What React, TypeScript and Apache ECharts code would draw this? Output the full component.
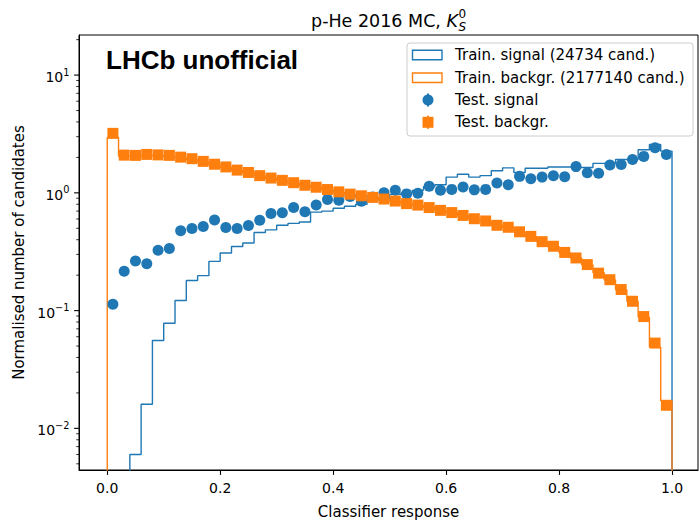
import React, { useEffect, useRef } from "react";
import * as echarts from "echarts";

// ---------------- data ----------------
const binEdges: number[] = [
  0.0, 0.02, 0.04, 0.06, 0.08, 0.1, 0.12, 0.14, 0.16, 0.18,
  0.2, 0.22, 0.24, 0.26, 0.28, 0.3, 0.32, 0.34, 0.36, 0.38,
  0.4, 0.42, 0.44, 0.46, 0.48, 0.5, 0.52, 0.54, 0.56, 0.58,
  0.6, 0.62, 0.64, 0.66, 0.68, 0.7, 0.72, 0.74, 0.76, 0.78,
  0.8, 0.82, 0.84, 0.86, 0.88, 0.9, 0.92, 0.94, 0.96, 0.98, 1.0,
];

const trainSignal: number[] = [
  0, 0, 0.006, 0.016, 0.0558, 0.078, 0.122, 0.18, 0.198, 0.262,
  0.308, 0.35, 0.375, 0.46, 0.485, 0.53, 0.55, 0.565, 0.686, 0.7,
  0.74, 0.77, 0.8, 0.87, 0.9, 0.97, 1.0, 1.05, 1.13, 1.17,
  1.36, 1.44, 1.36, 1.4, 1.54, 1.63, 1.49, 1.62, 1.62, 1.66,
  1.66, 1.64, 1.64, 1.78, 1.78, 1.92, 1.92, 2.32, 2.57, 2.26,
];

const trainBackground: number[] = [
  2.95, 2.05, 2.06, 2.08, 2.07, 2.04, 1.98, 1.92, 1.83, 1.73,
  1.65, 1.55, 1.48, 1.4, 1.33, 1.27, 1.21, 1.16, 1.11, 1.06,
  1.01, 0.97, 0.94, 0.91, 0.88, 0.85, 0.81, 0.78, 0.75, 0.71,
  0.68, 0.64, 0.6, 0.575, 0.53, 0.505, 0.465, 0.425, 0.385, 0.35,
  0.31, 0.28, 0.245, 0.21, 0.182, 0.15, 0.12, 0.088, 0.049, 0.0172,
];

const testSignal: number[] = [
  0.113, 0.216, 0.264, 0.25, 0.326, 0.337, 0.476, 0.497, 0.517, 0.588,
  0.507, 0.497, 0.527, 0.586, 0.667, 0.677, 0.75, 0.69, 0.79, 0.88,
  0.864, 0.93, 0.85, 0.92, 1.0, 1.05, 0.98, 0.99, 1.14, 1.05,
  1.07, 1.12, 1.06, 1.07, 1.21, 1.17, 1.38, 1.32, 1.36, 1.4,
  1.37, 1.67, 1.48, 1.47, 1.72, 1.74, 1.92, 2.04, 2.41, 2.12,
];

const testBackground: number[] = [
  3.2, 2.09, 2.08, 2.12, 2.1, 2.08, 2.01, 1.95, 1.85, 1.75,
  1.66, 1.56, 1.49, 1.4, 1.335, 1.277, 1.22, 1.16, 1.116, 1.067,
  1.02, 0.975, 0.944, 0.915, 0.886, 0.852, 0.81, 0.787, 0.75, 0.71,
  0.68, 0.643, 0.603, 0.577, 0.53, 0.51, 0.467, 0.427, 0.385, 0.352,
  0.312, 0.28, 0.246, 0.208, 0.183, 0.151, 0.12, 0.089, 0.053, 0.0157,
];

const xTicks: number[] = [0.0, 0.2, 0.4, 0.6, 0.8, 1.0];
const yMajorTicks: number[] = [0.01, 0.1, 1, 10];
const yMinorTicks: number[] = [
  0.005, 0.006, 0.007, 0.008, 0.009,
  0.02, 0.03, 0.04, 0.05, 0.06, 0.07, 0.08, 0.09,
  0.2, 0.3, 0.4, 0.5, 0.6, 0.7, 0.8, 0.9,
  2, 3, 4, 5, 6, 7, 8, 9,
  20,
];

const legendLabels: string[] = [
  "Train. signal (24734 cand.)",
  "Train. backgr. (2177140 cand.)",
  "Test. signal",
  "Test. backgr.",
];

// ---------------- layout / style ----------------
const X_MIN = -0.05;
const X_MAX = 1.046;
const Y_MIN = 0.00443;
const Y_MAX = 21.9;
const FLOOR = 1e-4;
const BLUE = "#1f77b4";
const ORANGE = "#ff7f0e";
const FONT = "DejaVu Sans";

function stepPoints(vals: number[]): number[][] {
  const pts: number[][] = [[binEdges[0], FLOOR]];
  vals.forEach((v, i) => {
    const y = v > 0 ? v : FLOOR;
    pts.push([binEdges[i], y]);
    pts.push([binEdges[i + 1], y]);
  });
  pts.push([binEdges[binEdges.length - 1], FLOOR]);
  return pts;
}

function centers(vals: number[]): number[][] {
  return vals.map((v, i) => [(binEdges[i] + binEdges[i + 1]) / 2, v]);
}

function expLabel(v: number): string {
  const e = Math.round(Math.log10(v));
  return e < 0 ? "\u2212" + String(-e) : String(e);
}

export default function App() {
  const ref = useRef<HTMLDivElement>(null);

  useEffect(() => {
    if (!ref.current) return;
    const chart = echarts.init(ref.current, undefined, { renderer: "svg" });

    const rowY = [55, 77.7, 100, 122.3];

    const option: any = {
      animation: false,
      backgroundColor: "#ffffff",
      grid: {
        left: 79,
        top: 35,
        width: 619,
        height: 443,
        show: true,
        borderColor: "#000",
        borderWidth: 1,
        backgroundColor: "transparent",
      },
      xAxis: {
        type: "value",
        min: X_MIN,
        max: X_MAX,
        splitLine: { show: false },
        axisLine: { show: true, onZero: false, lineStyle: { color: "#000", width: 1 } },
        axisTick: {
          show: true,
          customValues: xTicks,
          length: 4.9,
          lineStyle: { color: "#000", width: 1.1 },
        },
        axisLabel: {
          show: true,
          customValues: xTicks,
          margin: 11,
          fontFamily: FONT,
          fontSize: 14,
          color: "#000",
          formatter: (v: number) => v.toFixed(1),
        },
        name: "Classifier response",
        nameLocation: "middle",
        nameGap: 34,
        nameTextStyle: { fontFamily: FONT, fontSize: 15, color: "#000" },
      },
      yAxis: {
        type: "log",
        logBase: 10,
        min: Y_MIN,
        max: Y_MAX,
        splitLine: { show: false },
        axisLine: { show: true, onZero: false, lineStyle: { color: "#000", width: 1 } },
        axisTick: { show: false },
        axisLabel: { show: false },
        name: "Normalised number of candidates",
        nameLocation: "middle",
        nameGap: 53,
        nameTextStyle: { fontFamily: FONT, fontSize: 15, color: "#000" },
      },
      graphic: [
        // title
        {
          type: "text",
          x: 446.5,
          y: 20.9,
          style: {
            text: "p-He 2016 MC, ",
            align: "right",
            verticalAlign: "middle",
            fontFamily: FONT,
            fontSize: 17.5,
            fill: "#000",
          },
        },
        {
          type: "text",
          x: 446.5,
          y: 20.9,
          style: {
            text: "K",
            align: "left",
            verticalAlign: "middle",
            fontFamily: FONT,
            fontStyle: "italic",
            fontSize: 17.5,
            fill: "#000",
          },
        },
        {
          type: "text",
          x: 458.5,
          y: 27,
          style: {
            text: "S",
            align: "left",
            verticalAlign: "middle",
            fontFamily: FONT,
            fontStyle: "italic",
            fontSize: 12,
            fill: "#000",
          },
        },
        {
          type: "text",
          x: 458.5,
          y: 13.6,
          style: {
            text: "0",
            align: "left",
            verticalAlign: "middle",
            fontFamily: FONT,
            fontSize: 12,
            fill: "#000",
          },
        },
        // LHCb label
        {
          type: "text",
          x: 106,
          y: 60.3,
          style: {
            text: "LHCb unofficial",
            align: "left",
            verticalAlign: "middle",
            fontFamily: "Liberation Sans",
            fontWeight: "bold",
            fontSize: 26,
            fill: "#000",
          },
        },
        // legend frame
        {
          type: "rect",
          z: 100,
          shape: { x: 407, y: 43, width: 286, height: 93, r: 3 },
          style: { fill: "rgba(255,255,255,0.8)", stroke: "#cccccc", lineWidth: 1 },
        },
        {
          type: "rect",
          z: 101,
          shape: { x: 412.5, y: 50.3, width: 29.5, height: 9.5 },
          style: { fill: "none", stroke: BLUE, lineWidth: 1.4 },
        },
        {
          type: "rect",
          z: 101,
          shape: { x: 412.5, y: 73, width: 29.5, height: 9.5 },
          style: { fill: "none", stroke: ORANGE, lineWidth: 1.4 },
        },
        {
          type: "line",
          z: 101,
          shape: { x1: 428, y1: 93.5, x2: 428, y2: 106.5 },
          style: { stroke: BLUE, lineWidth: 2 },
        },
        {
          type: "circle",
          z: 102,
          shape: { cx: 428, cy: 100, r: 5.5 },
          style: { fill: BLUE },
        },
        {
          type: "line",
          z: 101,
          shape: { x1: 428, y1: 115.8, x2: 428, y2: 128.8 },
          style: { stroke: ORANGE, lineWidth: 2 },
        },
        {
          type: "rect",
          z: 102,
          shape: { x: 422.5, y: 116.8, width: 11, height: 11 },
          style: { fill: ORANGE },
        },
        ...legendLabels.map((t, i) => ({
          type: "text",
          z: 102,
          x: 455,
          y: rowY[i],
          style: {
            text: t,
            align: "left",
            verticalAlign: "middle",
            fontFamily: FONT,
            fontSize: 15,
            fill: "#000",
          },
        })),
      ],
      series: [
        {
          name: legendLabels[0],
          type: "line",
          data: stepPoints(trainSignal),
          showSymbol: false,
          clip: true,
          lineStyle: { color: BLUE, width: 1.4 },
          itemStyle: { color: BLUE },
          z: 2,
        },
        {
          name: legendLabels[1],
          type: "line",
          data: stepPoints(trainBackground),
          showSymbol: false,
          clip: true,
          lineStyle: { color: ORANGE, width: 1.4 },
          itemStyle: { color: ORANGE },
          z: 3,
        },
        {
          name: legendLabels[2],
          type: "scatter",
          data: centers(testSignal),
          symbol: "circle",
          symbolSize: 11,
          itemStyle: { color: BLUE, opacity: 1 },
          z: 4,
        },
        {
          name: legendLabels[3],
          type: "scatter",
          data: centers(testBackground),
          symbol: "rect",
          symbolSize: 11,
          itemStyle: { color: ORANGE, opacity: 1 },
          z: 5,
        },
        {
          type: "custom",
          coordinateSystem: "cartesian2d",
          silent: true,
          clip: false,
          z: 10,
          data: yMajorTicks.map((v) => [X_MIN, v]),
          renderItem: (_params: any, api: any) => {
            const v = api.value(1);
            const p = api.coord([api.value(0), v]);
            return {
              type: "group",
              children: [
                {
                  type: "line",
                  shape: { x1: p[0] - 4.9, y1: p[1], x2: p[0], y2: p[1] },
                  style: { stroke: "#000", lineWidth: 1.1 },
                },
                {
                  type: "text",
                  x: p[0] - 9.5,
                  y: p[1] + 2,
                  style: {
                    text: "{b|10}{s|" + expLabel(v) + "}",
                    align: "right",
                    verticalAlign: "middle",
                    fill: "#000",
                    rich: {
                      b: { fontFamily: FONT, fontSize: 14, lineHeight: 14, fill: "#000" },
                      s: {
                        fontFamily: FONT,
                        fontSize: 9.8,
                        lineHeight: 10,
                        padding: [0, 0, 10, 0],
                        fill: "#000",
                      },
                    },
                  },
                },
              ],
            };
          },
        },
        {
          type: "custom",
          coordinateSystem: "cartesian2d",
          silent: true,
          clip: false,
          z: 10,
          data: yMinorTicks.filter((v) => v >= Y_MIN && v <= Y_MAX).map((v) => [X_MIN, v]),
          renderItem: (_params: any, api: any) => {
            const p = api.coord([api.value(0), api.value(1)]);
            return {
              type: "line",
              shape: { x1: p[0] - 2.8, y1: p[1], x2: p[0], y2: p[1] },
              style: { stroke: "#000", lineWidth: 0.8 },
            };
          },
        },
      ],
    };

    chart.setOption(option);
    return () => chart.dispose();
  }, []);

  return (
    <div
      ref={ref}
      style={{ position: "absolute", left: 0, top: 0, width: 699, height: 524 }}
    />
  );
}
